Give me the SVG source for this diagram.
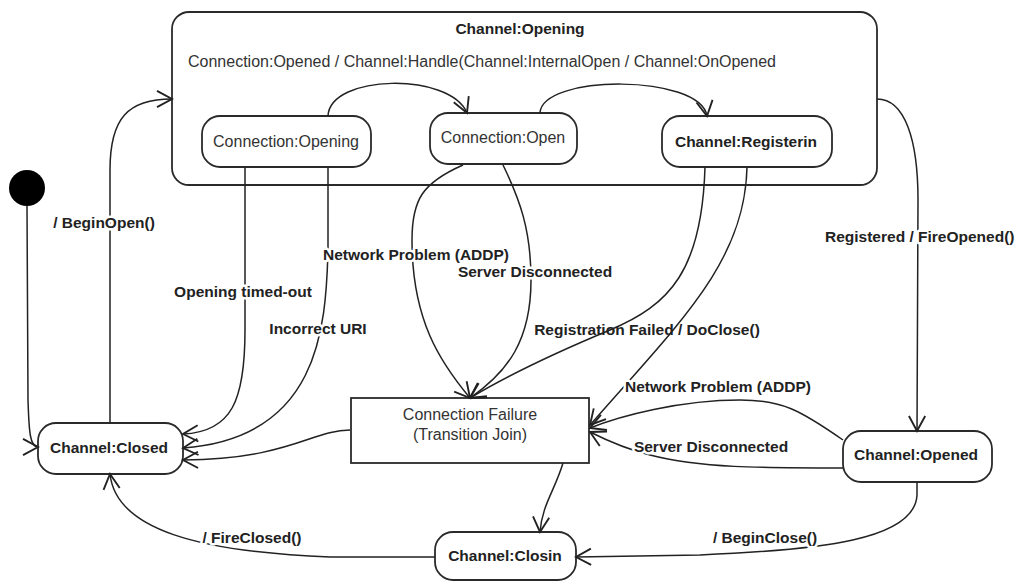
<svg xmlns="http://www.w3.org/2000/svg" width="1018" height="582" viewBox="0 0 1018 582">
<style>
.node{fill:#fff;stroke:#2a2a2a;stroke-width:1.8}
.cont{fill:#fff;stroke:#2a2a2a;stroke-width:1.8}
.edge{fill:none;stroke:#222;stroke-width:1.5;marker-end:url(#arr)}
.t{font-family:"Liberation Sans",Arial,sans-serif;font-size:16px;fill:#333}
.b{font-family:"Liberation Sans",Arial,sans-serif;font-size:15.5px;font-weight:bold;fill:#222}
.lbl{font-family:"Liberation Sans",Arial,sans-serif;font-size:15.5px;font-weight:bold;fill:#222;stroke:#fff;stroke-width:5;stroke-linejoin:round;paint-order:stroke}
.lbl2{font-family:"Liberation Sans",Arial,sans-serif;font-size:15.5px;font-weight:bold;fill:#222}
</style>
<defs>
<marker id="arr" markerUnits="userSpaceOnUse" markerWidth="20" markerHeight="20" viewBox="-14 -8 16 16" refX="0" refY="0" orient="auto">
<path d="M-12,-6.5 L0,0 L-12,6.5" fill="none" stroke="#222" stroke-width="1.5"/>
</marker>
</defs>
<rect width="1018" height="582" fill="#fff"/>

<g id="channel-opening">
<rect class="cont" x="172" y="12" width="705" height="173" rx="17"/>
<text class="b" x="520" y="34" text-anchor="middle">Channel:Opening</text>
<text class="t" x="188" y="67">Connection:Opened / Channel:Handle(Channel:InternalOpen / Channel:OnOpened</text>
</g>

<g id="connection-opening">
<rect class="node" x="202" y="116" width="169" height="51" rx="18"/>
<text class="t" x="286" y="147" text-anchor="middle">Connection:Opening</text>
</g>

<g id="connection-open">
<rect class="node" x="430" y="113" width="147" height="51" rx="18"/>
<text class="t" x="503" y="143" text-anchor="middle">Connection:Open</text>
</g>

<g id="channel-registerin">
<rect class="node" x="662" y="116" width="170" height="51" rx="18"/>
<text class="b" x="746" y="147" text-anchor="middle">Channel:Registerin</text>
</g>

<g id="initial">
<circle cx="27" cy="188" r="18" fill="#000"/>
</g>

<g id="channel-closed">
<rect class="node" x="38" y="423" width="145" height="51" rx="18"/>
<text class="b" x="109" y="453" text-anchor="middle">Channel:Closed</text>
</g>

<g id="connection-failure">
<rect class="node" x="351" y="398" width="238" height="65"/>
<text class="t" x="470" y="420" text-anchor="middle">Connection Failure</text>
<text class="t" x="470" y="440" text-anchor="middle">(Transition Join)</text>
</g>

<g id="channel-opened">
<rect class="node" x="843" y="431" width="149" height="51" rx="18"/>
<text class="b" x="916" y="460" text-anchor="middle">Channel:Opened</text>
</g>

<g id="channel-closin">
<rect class="node" x="435" y="532" width="141" height="48" rx="18"/>
<text class="b" x="505" y="561" text-anchor="middle">Channel:Closin</text>
</g>

<g id="connectors">
<path class="edge" d="M328,116 C330,74 450,72 467,113"/>
<path class="edge" d="M540,113 C542,74 700,74 707,116"/>
<path class="edge" d="M27,206 L28,400 C29,432 30,447 38,447"/>
<path class="edge" d="M110,423 L110,170 C110,118 128,99 172,99"/>
<path class="edge" d="M245,167 L245,330 C245,400 232,432 183,434"/>
<path class="edge" d="M328,167 L328,250 C326,330 318,438 183,448"/>
<path class="edge" d="M350,430 C312,430 290,459 183,460"/>
<path class="edge" d="M463,165 C422,183 412,200 412,240 C412,320 440,362 470,398"/>
<path class="edge" d="M503,165 C520,200 531,230 531,280 C531,340 508,372 470,398"/>
<path class="edge" d="M705,167 C702,270 670,305 610,330 C550,355 500,380 470,398"/>
<path class="edge" d="M747,167 C745,262 680,322 590,425"/>
<path class="edge" d="M843,440 C800,410 782,400 740,400 C680,400 620,416 590,428"/>
<path class="edge" d="M843,468 C760,468 700,468 650,455 C622,448 602,438 590,432"/>
<path class="edge" d="M877,99 C905,99 918,140 918,200 L917,431"/>
<path class="edge" d="M563,463 C555,490 542,505 540,532"/>
<path class="edge" d="M435,557 L330,557 C200,552 116,530 110,474"/>
<path class="edge" d="M917,482 L917,495 C915,540 820,550 700,555 L576,557"/>

<text class="lbl" x="104" y="228" text-anchor="middle">/ BeginOpen()</text>
<text class="lbl" x="243" y="297" text-anchor="middle">Opening timed-out</text>
<text class="lbl" x="318" y="334" text-anchor="middle">Incorrect URI</text>
<text class="lbl" x="416" y="260" text-anchor="middle">Network Problem (ADDP)</text>
<text class="lbl" x="535" y="277" text-anchor="middle">Server Disconnected</text>
<text class="lbl2" x="647" y="335" text-anchor="middle">Registration Failed / DoClose()</text>
<text class="lbl" x="718" y="392" text-anchor="middle">Network Problem (ADDP)</text>
<text class="lbl" x="711" y="452" text-anchor="middle">Server Disconnected</text>
<text class="lbl" x="825" y="242">Registered / FireOpened()</text>
<text class="lbl" x="252" y="543" text-anchor="middle">/ FireClosed()</text>
<text class="lbl" x="765" y="543" text-anchor="middle">/ BeginClose()</text>
</g>
</svg>
